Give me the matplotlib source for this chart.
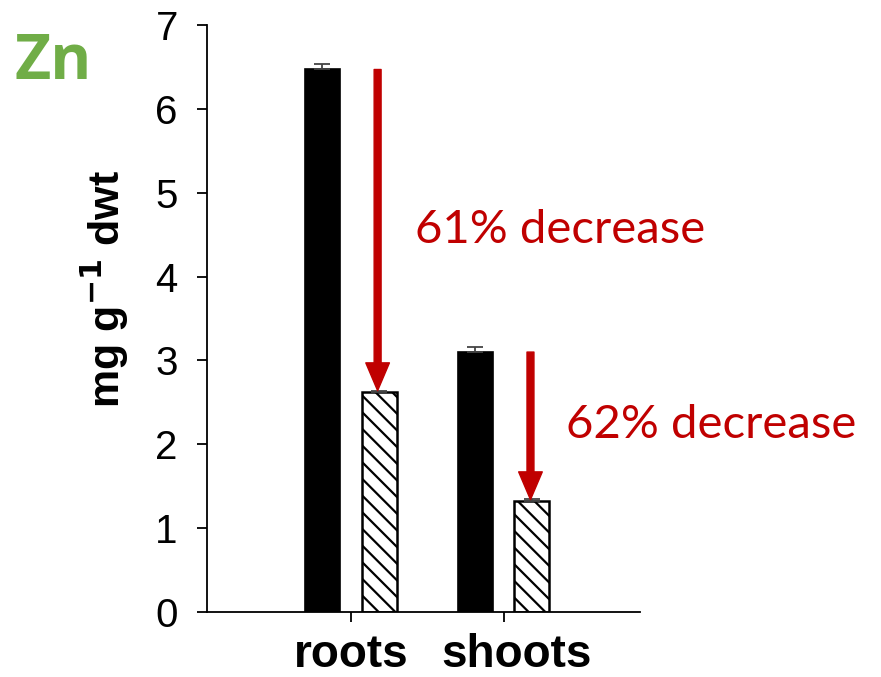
import matplotlib
matplotlib.use('Agg')
import matplotlib.pyplot as plt
import matplotlib.transforms as mtransforms

# data
groups = ['roots', 'shoots']
control = [6.47, 3.10]
control_err = [0.06, 0.06]
treated = [2.62, 1.32]
treated_err = [0.02, 0.03]
notes = ['61% decrease', '62% decrease']

plt.rcParams['font.family'] = ['Liberation Sans', 'DejaVu Sans']
plt.rcParams['hatch.linewidth'] = 1.6

fig = plt.figure(figsize=(8.81, 6.77), dpi=100)
ax = fig.add_axes([0.235, 0.096, 0.491, 0.867])

pos = [1, 2]
w = 0.229
off = 0.186
xc = [p - off for p in pos]
xt = [p + off for p in pos]

ax.bar(xc, control, w, color='black', edgecolor='black', linewidth=1.2,
       yerr=[[0, 0], control_err], error_kw=dict(ecolor='#444444', capsize=6, elinewidth=1.3, capthick=1.3))
ax.bar(xt, treated, w, color='white', edgecolor='black', linewidth=1.8, hatch='\\\\',
       yerr=[[0, 0], treated_err], error_kw=dict(ecolor='#444444', capsize=6, elinewidth=1.3, capthick=1.3))

red = '#C00000'
for i in range(2):
  ax.annotate('', xy=(xt[i] - 0.01, treated[i] + 0.02), xytext=(xt[i] - 0.01, control[i]),
              arrowprops=dict(facecolor=red, edgecolor=red, width=5, headwidth=17, headlength=20))

ax.text(1.42, 4.55, notes[0], color=red, fontsize=34, va='center', ha='left', family=['Lato', 'DejaVu Sans'])
ax.text(2.41, 2.23, notes[1], color=red, fontsize=34, va='center', ha='left', family=['Lato', 'DejaVu Sans'])

ax.set_xlim(0.06, 2.89)
ax.set_ylim(0, 7)
ax.spines['top'].set_visible(False)
ax.spines['right'].set_visible(False)
ax.spines['left'].set_linewidth(1.3)
ax.spines['bottom'].set_linewidth(1.3)
ax.set_yticks(range(8))
ax.tick_params(axis='y', labelsize=29, length=7, width=1.3, direction='out', pad=14)
ax.set_xticks(pos)
ax.set_xticklabels(groups, fontsize=33, fontweight='bold')
ax.tick_params(axis='x', length=7, width=1.3, direction='out', pad=8)
# nudge "shoots" a little to the right like the original
lab = ax.get_xticklabels()[1]
lab.set_transform(lab.get_transform() + mtransforms.ScaledTranslation(0.13, 0, fig.dpi_scale_trans))

ax.set_ylabel('mg g$^{\\mathbf{-1}}$ dwt', fontsize=31, fontweight='bold')
ax.yaxis.set_label_coords(-0.175, 0.55)

fig.text(0.017, 0.908, 'Zn', color='#70AD47', fontsize=45, fontweight='bold',
         family=['Open Sans', 'DejaVu Sans'], va='center', ha='left')

plt.savefig('out.png', dpi=100)
